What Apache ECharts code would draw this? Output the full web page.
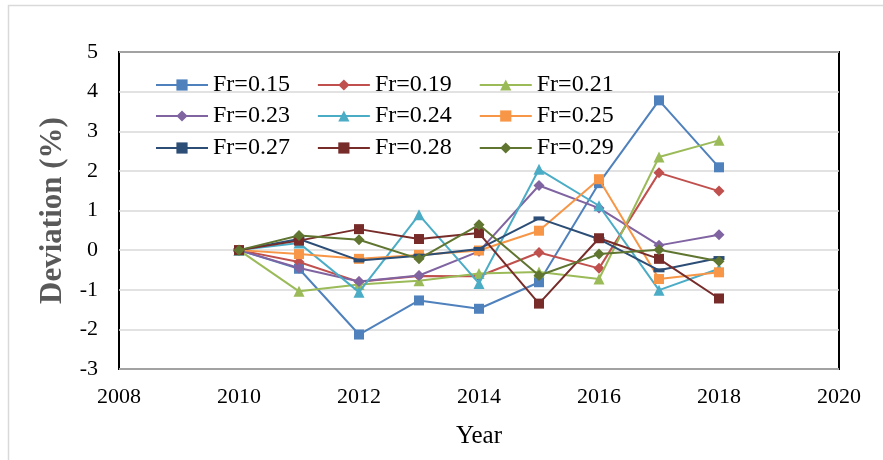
<!DOCTYPE html>
<html>
<head>
<meta charset="utf-8">
<script src="https://cdn.jsdelivr.net/npm/echarts@6/dist/echarts.min.js"></script>
<style>
  html, body { margin: 0; padding: 0; background: #fff; }
  #chart { width: 883px; height: 460px; }
</style>
</head>
<body>
<div id="chart"></div>
<script>
// Years on the x axis
const years = [2010, 2011, 2012, 2013, 2014, 2015, 2016, 2017, 2018];

// Deviation (%) for each Froude number
const fr015 = [0, -0.47, -2.13, -1.27, -1.48, -0.81, 1.69, 3.78, 2.09];
const fr019 = [0, -0.30, -0.80, -0.65, -0.66, -0.06, -0.46, 1.95, 1.49];
const fr021 = [0, -1.04, -0.87, -0.77, -0.59, -0.55, -0.73, 2.35, 2.77];
const fr023 = [0, -0.45, -0.79, -0.64, -0.03, 1.63, 1.06, 0.12, 0.39];
const fr024 = [0, 0.18, -1.06, 0.89, -0.84, 2.04, 1.12, -1.01, -0.47];
const fr025 = [0, -0.10, -0.22, -0.12, -0.01, 0.49, 1.79, -0.73, -0.56];
const fr027 = [0, 0.28, -0.26, -0.14, 0.03, 0.80, 0.28, -0.51, -0.20];
const fr028 = [0, 0.24, 0.53, 0.28, 0.43, -1.35, 0.30, -0.22, -1.22];
const fr029 = [0, 0.37, 0.26, -0.22, 0.64, -0.64, -0.10, 0.01, -0.28];

const seriesNames = ['Fr=0.15', 'Fr=0.19', 'Fr=0.21', 'Fr=0.23', 'Fr=0.24', 'Fr=0.25', 'Fr=0.27', 'Fr=0.28', 'Fr=0.29'];
const seriesValues = [fr015, fr019, fr021, fr023, fr024, fr025, fr027, fr028, fr029];
const colors = ['#4F81BD', '#C0504D', '#9BBB59', '#8064A2', '#4BACC6', '#F79646', '#2C4D75', '#772C2A', '#5F7530'];
const symbols = ['rect', 'diamond', 'triangle', 'diamond', 'triangle', 'rect', 'rect', 'rect', 'diamond'];
const symbolSizes = [10, 11, 11, 11, 11, 10, [11, 4], 10, 11];

// x ticks every 2 years, y ticks every 1 %
const xMin = 2008, xMax = 2020, xStep = 2;
const yMin = -3, yMax = 5, yStep = 1;

const serif = '"Liberation Serif", "Times New Roman", serif';

const series = seriesNames.map((name, i) => ({
  name: name,
  type: 'line',
  data: years.map((y, j) => [y, seriesValues[i][j]]),
  symbol: symbols[i],
  symbolSize: symbolSizes[i],
  showAllSymbol: true,
  lineStyle: { color: colors[i], width: 2 },
  itemStyle: { color: colors[i] },
  emphasis: { disabled: true },
  animation: false,
  z: 2 + i
}));

function legendRow(names, top) {
  return {
    data: names,
    left: 155,
    top: top,
    padding: 0,
    orient: 'horizontal',
    itemWidth: 52,
    itemHeight: 14,
    itemGap: 27,
    textStyle: { fontFamily: serif, fontSize: 24, color: '#000', lineHeight: 24, padding: [0, 0, 0, 0] },
    selectedMode: false
  };
}

const chart = echarts.init(document.getElementById('chart'), null, { renderer: 'canvas' });
chart.setOption({
  backgroundColor: '#fff',
  animation: false,
  graphic: [{
    type: 'rect',
    shape: { x: 8.5, y: 5.5, width: 900, height: 500 },
    style: { fill: 'none', stroke: '#D9D9D9', lineWidth: 1.5 },
    silent: true,
    z: -10
  }],
  grid: {
    left: 119, right: 44, top: 52, bottom: 91,
    show: true,
    borderColor: '#000',
    borderWidth: 2,
    backgroundColor: 'transparent'
  },
  legend: [
    legendRow(seriesNames.slice(0, 3), 73),
    legendRow(seriesNames.slice(3, 6), 104),
    legendRow(seriesNames.slice(6, 9), 136)
  ],
  xAxis: {
    type: 'value',
    min: xMin, max: xMax, interval: xStep,
    name: 'Year',
    nameLocation: 'middle',
    nameGap: 55,
    nameTextStyle: { fontFamily: serif, fontSize: 25, color: '#000' },
    axisLine: { show: false },
    axisTick: { show: false },
    splitLine: { show: false },
    axisLabel: { fontFamily: serif, fontSize: 22, color: '#000', margin: 17, formatter: v => String(v) }
  },
  yAxis: {
    type: 'value',
    min: yMin, max: yMax, interval: yStep,
    name: 'Deviation (%)',
    nameLocation: 'middle',
    nameGap: 43,
    nameTextStyle: { fontFamily: serif, fontSize: 31, fontWeight: 'bold', color: '#595959' },
    axisLine: { show: false },
    axisTick: { show: false },
    splitLine: { show: true, lineStyle: { color: '#D9D9D9', width: 1.5 } },
    axisLabel: { fontFamily: serif, fontSize: 22, color: '#000', margin: 21 }
  },
  series: series
});
</script>
</body>
</html>
